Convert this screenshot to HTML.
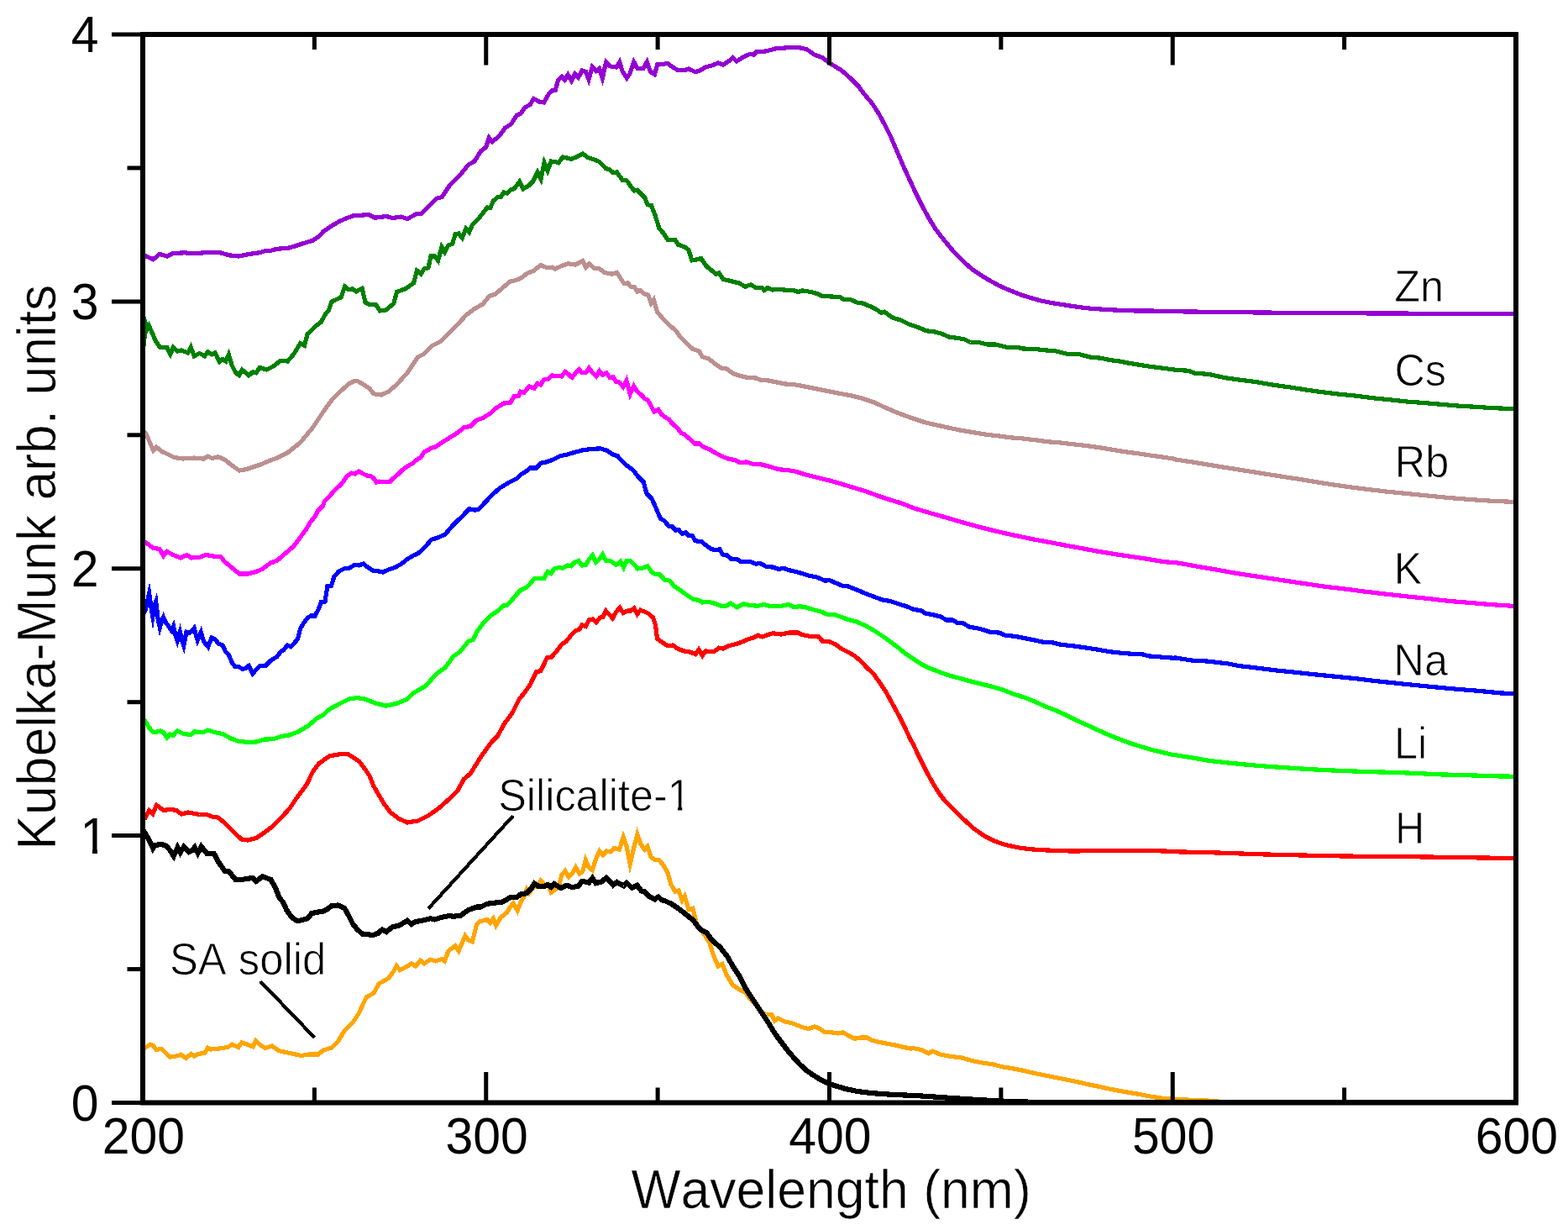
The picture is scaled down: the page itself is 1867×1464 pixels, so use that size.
<!DOCTYPE html>
<html lang="en">
<head>
<meta charset="utf-8">
<title>Kubelka-Munk spectra</title>
<style>
html,body{margin:0;padding:0;background:#fff;}
body{width:1867px;height:1464px;overflow:hidden;}
svg{display:block;}
text{font-family:"Liberation Sans", Arial, Helvetica, sans-serif;fill:#000;}
text{font-kerning:none;}
.lb{stroke:#fff;stroke-width:0.8px;}
.ti{stroke:#fff;stroke-width:0.6px;}
.tk{font-size:62px;}
.lb{font-size:54px;}
.ti{font-size:65.5px;}
.c{fill:none;stroke-linejoin:miter;stroke-miterlimit:10;stroke-linecap:butt;}
</style>
</head>
<body>
<svg width="1867" height="1464" viewBox="0 0 1867 1464">
<rect x="0" y="0" width="1867" height="1464" fill="#ffffff"/>
<defs><clipPath id="plot"><rect x="170.0" y="41.0" width="1635.0" height="1271.5"/></clipPath></defs>
<g clip-path="url(#plot)" shape-rendering="crispEdges">
<polyline class="c" stroke="#ffa500" stroke-width="5.2" points="170.5,1248.2 173.0,1247.0 178.8,1243.2 182.5,1244.5 186.2,1249.5 192.5,1248.2 197.5,1253.2 202.5,1258.2 212.5,1256.5 215.0,1255.2 221.2,1259.5 227.5,1254.5 231.2,1257.0 236.2,1254.5 243.8,1253.2 247.5,1247.0 251.2,1249.0 260.0,1248.2 267.5,1247.0 271.2,1246.5 276.2,1243.2 283.8,1246.5 288.0,1240.8 292.5,1242.5 301.2,1245.8 304.6,1238.7 310.0,1244.0 316.2,1247.5 323.8,1245.0 332.5,1250.8 340.0,1252.5 350.0,1254.5 358.8,1256.5 367.5,1255.0 378.8,1255.0 385.0,1250.0 395.0,1247.0 402.5,1239.5 410.0,1227.0 420.0,1217.0 427.5,1205.8 432.5,1194.5 436.2,1187.0 445.0,1182.0 451.2,1170.8 462.5,1164.5 468.8,1155.8 472.1,1149.6 476.2,1154.5 482.5,1151.5 490.0,1147.0 495.0,1150.0 500.5,1143.2 505.0,1147.0 512.5,1142.0 518.8,1144.0 526.2,1141.5 529.4,1144.0 533.8,1132.0 542.0,1125.8 546.1,1131.8 553.9,1113.8 557.5,1119.0 562.5,1120.8 567.5,1100.8 571.2,1097.0 580.0,1094.5 583.8,1098.2 587.3,1093.3 590.6,1101.4 596.2,1092.0 603.8,1085.8 607.5,1079.5 611.2,1075.1 616.1,1083.7 620.0,1073.8 623.8,1067.5 627.2,1058.7 630.0,1063.0 635.0,1056.2 640.0,1055.0 643.8,1048.0 648.8,1053.8 652.5,1052.5 656.3,1062.3 661.2,1058.8 665.0,1056.2 668.8,1041.2 673.0,1036.7 677.0,1043.7 681.2,1040.0 685.5,1032.4 690.0,1040.0 693.8,1037.5 697.3,1023.8 701.2,1032.5 705.3,1035.7 709.5,1022.5 713.9,1012.8 718.0,1017.5 722.5,1013.0 727.0,1013.8 731.2,1009.5 737.5,1011.2 742.1,996.2 746.2,1007.5 750.2,1028.4 754.5,1010.0 758.9,993.0 763.0,1005.0 767.5,1011.2 771.0,1007.4 775.0,1020.0 780.0,1023.8 785.0,1023.8 790.0,1030.0 795.0,1038.8 798.8,1052.5 803.8,1061.2 808.0,1060.0 812.2,1071.7 815.2,1066.8 820.0,1082.5 825.0,1081.2 828.8,1097.5 832.5,1105.0 838.8,1112.5 845.0,1122.5 848.8,1135.0 855.0,1150.0 860.0,1147.5 865.0,1160.0 872.5,1172.5 880.0,1177.5 887.5,1181.2 892.5,1188.8 900.0,1196.2 907.5,1205.0 912.5,1207.5 918.8,1207.5 922.5,1214.9 926.2,1212.0 935.0,1216.2 942.5,1217.5 950.0,1220.5 956.2,1223.0 962.5,1224.5 970.0,1222.0 975.0,1223.8 981.2,1228.0 990.0,1228.8 997.5,1230.0 1003.8,1228.8 1010.0,1232.5 1017.5,1236.2 1025.0,1235.0 1032.5,1235.0 1037.5,1238.0 1045.0,1240.0 1055.0,1242.0 1065.0,1243.8 1075.0,1246.2 1085.0,1248.2 1087.0,1247.5 1097.0,1249.5 1105.8,1253.8 1110.8,1251.2 1119.5,1255.0 1132.0,1257.5 1144.5,1258.8 1157.0,1262.5 1169.5,1265.0 1182.0,1266.8 1194.5,1270.0 1207.0,1272.0 1219.5,1274.5 1232.0,1277.5 1244.5,1280.0 1257.0,1282.5 1269.5,1285.0 1282.0,1287.5 1294.5,1290.5 1307.0,1293.0 1319.5,1295.8 1332.0,1298.2 1344.5,1300.5 1357.0,1302.5 1369.5,1305.0 1382.0,1307.0 1394.5,1308.0 1412.0,1309.0 1437.0,1310.0 1462.0,1312.0"/>
<polyline class="c" stroke="#000000" stroke-width="6.2" points="170.5,988.2 173.0,992.0 177.5,999.5 182.2,1009.8 185.0,1005.8 192.5,1005.0 197.5,1006.5 202.5,1012.0 206.8,1018.9 211.4,1008.8 214.6,1014.8 218.9,1008.0 225.0,1014.0 228.8,1012.0 231.8,1008.5 235.5,1015.5 239.7,1007.5 246.2,1015.8 255.0,1016.5 260.0,1025.8 267.5,1036.5 272.5,1037.0 280.0,1046.5 287.5,1047.0 295.0,1045.8 301.2,1045.0 305.0,1048.9 312.5,1043.2 322.5,1047.0 327.5,1055.8 332.5,1068.2 337.5,1074.5 341.2,1083.2 347.5,1092.0 353.8,1096.2 360.0,1095.0 366.2,1093.2 371.2,1087.0 377.5,1085.8 385.0,1084.5 390.0,1082.0 395.0,1078.2 402.5,1077.5 410.0,1080.8 415.0,1089.5 420.0,1099.5 425.0,1105.8 431.2,1111.5 437.5,1112.0 443.8,1113.2 450.0,1110.8 455.0,1106.5 460.0,1109.0 467.5,1103.2 473.8,1102.0 478.8,1099.5 485.0,1095.8 490.0,1100.0 495.0,1097.0 502.5,1095.8 512.5,1093.2 517.5,1094.5 525.0,1092.0 535.0,1090.0 540.0,1090.8 548.8,1089.5 557.5,1083.2 567.5,1079.5 572.5,1079.5 580.0,1075.8 590.0,1074.5 597.5,1074.0 607.5,1068.2 615.0,1068.2 620.0,1064.5 627.5,1063.0 632.5,1057.5 636.3,1051.7 641.2,1055.0 647.5,1055.0 652.5,1053.0 656.2,1056.0 660.0,1052.0 667.5,1057.0 675.0,1053.8 681.2,1056.2 688.8,1054.5 693.0,1048.8 701.2,1050.5 705.5,1045.1 709.5,1051.2 716.2,1049.5 722.0,1044.8 730.0,1053.5 734.5,1050.0 742.5,1054.5 746.2,1050.8 752.5,1057.0 758.7,1053.8 763.8,1060.5 767.5,1061.2 773.8,1067.5 779.5,1070.5 783.8,1067.5 788.0,1071.2 792.5,1072.5 800.0,1076.2 807.5,1081.2 815.0,1087.0 825.0,1095.0 833.8,1106.2 841.2,1110.0 847.5,1118.8 857.5,1127.5 866.2,1138.8 872.5,1150.0 880.0,1161.2 886.2,1173.8 892.5,1183.8 900.0,1195.0 907.5,1206.2 915.0,1217.5 922.5,1230.0 930.0,1240.0 937.5,1250.0 945.0,1258.8 952.5,1267.0 960.0,1273.8 967.5,1279.2 975.0,1283.8 985.0,1288.8 995.0,1292.5 1007.5,1296.2 1020.0,1298.8 1035.0,1300.8 1050.0,1302.0 1065.0,1303.0 1085.0,1303.8 1087.0,1303.8 1112.0,1305.5 1137.0,1307.2 1167.0,1309.2 1212.0,1311.5 1287.0,1312.2 1805.0,1312.5"/>
<polyline class="c" stroke="#ff0000" stroke-width="5.2" points="170.5,972.0 173.0,973.2 177.6,964.8 181.9,968.9 186.3,958.4 195.0,964.5 202.5,963.2 210.0,964.5 216.2,969.0 223.8,967.0 237.5,969.5 246.2,969.5 252.5,972.0 260.0,973.2 267.5,979.5 277.5,989.5 287.5,999.0 295.0,1000.0 305.0,997.5 315.0,990.8 325.0,983.2 335.0,973.2 345.0,962.0 352.5,950.8 360.0,940.8 365.0,934.0 372.5,918.5 380.0,908.5 392.5,899.8 407.5,897.2 415.0,898.0 427.5,906.0 435.0,916.0 440.0,923.5 445.0,935.8 450.0,944.5 457.5,957.0 465.0,967.0 475.0,974.5 485.0,979.0 497.5,977.0 510.0,970.8 522.5,962.0 535.0,950.8 545.0,940.8 552.5,927.2 560.0,921.0 572.5,901.0 585.0,883.5 592.5,876.0 600.0,862.2 610.0,848.5 618.8,831.0 620.0,830.0 625.0,823.8 631.2,815.0 638.8,799.5 643.8,798.8 651.2,783.0 656.2,782.5 662.5,775.5 668.8,767.0 673.8,763.8 680.0,756.2 685.0,750.8 689.5,749.5 693.0,743.8 697.5,745.5 701.2,738.0 706.2,737.0 710.0,740.5 714.5,735.0 718.0,734.5 721.4,727.1 725.0,731.2 729.5,735.9 733.8,728.0 738.0,723.3 742.0,729.5 747.5,727.0 751.2,727.0 755.0,723.9 758.8,731.1 762.5,726.2 767.5,728.0 772.5,730.5 777.5,735.0 780.5,743.8 782.5,760.0 787.5,763.8 795.0,768.8 801.2,768.0 807.5,772.5 815.0,775.0 822.5,776.2 828.0,778.8 832.0,773.2 836.3,780.4 840.0,775.0 850.0,775.5 856.2,771.2 861.2,772.0 867.5,768.8 880.0,765.5 890.0,761.2 897.5,758.8 902.5,756.2 907.5,758.0 912.5,756.2 920.0,753.8 930.0,755.0 940.0,753.0 950.0,753.0 955.0,755.5 965.0,757.5 975.0,758.0 980.0,763.8 987.5,763.8 995.0,767.0 1002.5,772.5 1010.0,776.2 1017.5,780.5 1025.0,787.0 1032.5,795.0 1040.0,802.0 1047.5,812.5 1055.0,823.8 1062.5,837.5 1070.0,851.2 1077.5,866.2 1085.0,882.0 1087.0,885.0 1094.5,901.2 1102.0,916.2 1109.5,930.0 1117.0,942.5 1124.5,952.5 1132.0,960.0 1144.5,972.5 1159.5,986.2 1172.0,995.0 1184.5,1001.2 1197.0,1005.5 1212.0,1008.8 1227.0,1010.8 1247.0,1012.0 1274.5,1013.0 1299.5,1012.8 1324.5,1012.5 1362.0,1012.5 1387.0,1013.0 1400.0,1013.8 1450.0,1015.0 1500.0,1016.8 1550.0,1018.0 1600.0,1019.0 1650.0,1019.5 1700.0,1020.0 1750.0,1020.8 1805.0,1021.5"/>
<polyline class="c" stroke="#00ff00" stroke-width="5.2" points="170.5,854.8 173.0,858.5 177.5,866.0 182.5,871.5 187.5,871.0 191.2,869.8 195.0,872.2 198.8,878.2 202.5,874.0 206.2,875.5 211.2,869.8 217.5,873.0 227.5,874.8 231.2,871.0 242.5,871.5 247.5,869.0 255.0,871.5 265.0,873.5 275.0,879.0 285.0,882.5 296.2,883.5 305.0,883.0 315.0,880.0 325.0,879.8 335.0,876.5 345.0,874.8 355.0,871.0 367.5,863.5 377.5,854.8 385.0,851.0 392.5,844.0 405.0,837.2 415.0,832.2 425.0,830.5 435.0,832.2 447.5,837.2 460.0,840.2 472.5,837.2 485.0,832.2 492.5,824.8 507.5,816.0 515.0,807.2 522.5,799.8 530.0,794.8 540.0,781.0 547.5,776.0 557.5,763.5 563.8,761.0 567.5,752.2 575.0,742.2 585.0,732.2 592.5,727.2 600.0,720.5 603.8,720.5 610.0,713.5 617.5,704.8 620.0,702.5 627.5,698.8 636.2,688.8 642.5,688.8 647.5,688.8 652.0,680.5 656.2,682.5 660.0,677.0 665.0,675.5 670.0,676.2 676.2,673.0 680.0,673.8 683.8,669.5 688.8,667.5 693.0,673.0 697.5,672.5 701.2,666.2 705.4,660.9 709.6,669.6 713.8,665.5 717.5,659.9 721.2,667.0 727.5,668.0 733.8,672.5 738.7,668.2 742.5,675.6 746.2,667.5 750.5,667.5 755.0,672.0 759.5,677.0 765.0,676.2 771.2,673.8 776.2,681.2 781.2,683.8 785.5,683.8 791.2,690.0 797.5,691.2 802.5,697.5 810.0,702.5 817.5,708.0 825.0,713.0 832.5,714.5 836.2,717.0 843.8,716.2 850.0,718.0 858.8,721.2 865.0,721.2 870.0,718.0 877.5,723.0 885.0,718.8 892.5,720.5 902.5,721.2 910.0,719.5 917.5,721.8 927.5,721.8 938.8,719.5 945.0,722.5 952.5,721.8 960.0,723.0 970.0,726.2 977.5,728.0 985.0,731.2 992.5,731.2 1000.0,733.8 1010.0,737.5 1020.0,740.0 1030.0,744.5 1040.0,750.0 1047.5,755.0 1055.0,760.0 1062.5,765.5 1070.0,771.2 1077.5,777.5 1085.0,782.5 1087.0,783.8 1097.0,790.5 1107.0,795.5 1117.0,799.2 1127.0,803.0 1137.0,805.8 1152.0,810.0 1167.0,813.8 1182.0,817.5 1194.5,821.2 1207.0,826.2 1219.5,830.0 1232.0,835.0 1244.5,840.8 1257.0,845.5 1269.5,851.2 1282.0,857.5 1294.5,863.0 1307.0,868.8 1319.5,874.5 1332.0,879.5 1344.5,884.2 1357.0,888.2 1369.5,892.0 1382.0,895.0 1394.5,898.0 1400.0,898.8 1420.0,902.0 1440.0,905.5 1462.5,908.0 1487.5,910.5 1512.5,912.5 1537.5,914.2 1562.5,915.8 1587.5,917.0 1612.5,918.0 1637.5,918.8 1662.5,919.5 1687.5,920.5 1712.5,921.8 1737.5,922.5 1762.5,923.2 1787.5,924.0 1805.0,924.2"/>
<polyline class="c" stroke="#0000ff" stroke-width="5.2" points="170.5,731.0 173.0,726.0 175.5,716.0 177.6,706.4 180.5,726.0 181.9,734.1 184.0,721.0 185.7,716.1 188.0,736.0 190.3,746.9 192.0,741.0 194.6,734.7 197.5,741.0 201.2,746.0 204.4,750.7 206.6,745.5 209.0,756.0 211.2,762.6 214.3,752.1 217.0,763.5 218.7,768.6 222.0,752.2 225.5,753.5 228.8,751.0 231.2,747.8 235.2,762.1 239.3,752.4 242.5,763.5 247.8,769.9 252.0,759.0 256.2,761.0 260.0,766.0 265.0,768.0 268.8,776.0 272.5,779.8 276.2,788.5 280.0,793.5 285.0,794.0 288.8,796.5 292.5,795.5 296.2,792.4 300.8,801.7 305.0,797.2 310.0,792.2 316.2,792.2 322.5,786.0 330.0,781.5 335.0,774.8 338.0,773.5 342.0,768.0 346.2,769.8 350.0,766.0 354.5,760.5 357.5,748.5 361.2,742.2 366.2,735.5 370.0,733.0 375.0,733.0 378.8,726.0 382.5,716.5 387.0,716.0 390.0,697.2 394.5,697.2 398.0,686.0 403.8,679.8 410.0,676.8 415.0,676.8 422.5,672.2 427.5,673.0 432.5,671.0 437.5,674.8 443.8,679.0 450.0,679.8 456.2,681.0 462.5,678.0 470.0,675.5 477.5,671.5 485.0,665.5 492.5,661.0 497.5,659.0 505.0,652.2 513.8,642.2 520.0,640.5 530.0,636.0 537.5,627.2 547.5,617.2 552.5,612.2 558.8,605.5 565.0,607.2 570.0,606.0 580.0,595.5 585.0,589.8 595.0,581.0 605.0,574.8 615.0,569.8 620.0,565.0 626.2,561.2 631.2,557.0 638.8,557.0 643.8,551.2 650.0,550.0 657.5,547.5 667.5,542.5 675.0,541.2 682.5,538.8 695.0,535.5 705.0,534.5 715.0,533.8 722.5,536.2 730.0,541.2 735.0,542.5 741.2,549.5 747.5,555.0 753.8,559.5 760.0,567.5 766.2,573.8 770.0,587.5 776.2,593.8 781.2,605.0 786.2,617.0 791.2,620.0 796.2,626.2 800.0,626.2 804.5,631.2 808.0,630.5 812.5,635.5 816.2,633.8 820.0,637.5 824.5,638.0 828.0,643.8 835.0,644.5 841.2,649.5 847.5,653.8 852.5,654.5 857.0,653.8 860.5,660.0 865.0,660.5 870.0,665.0 877.5,665.5 882.5,668.8 893.8,668.8 900.0,671.2 905.0,670.5 912.5,674.5 920.0,675.0 927.5,677.5 932.5,676.2 940.0,678.8 947.5,680.5 955.0,682.5 962.5,685.0 972.5,687.0 982.5,691.2 987.5,690.5 995.0,693.8 1002.5,697.0 1010.0,698.0 1020.0,702.0 1030.0,706.2 1040.0,710.0 1050.0,713.8 1060.0,715.5 1070.0,718.8 1080.0,722.0 1087.0,725.0 1097.0,727.0 1102.0,730.0 1112.0,732.0 1119.5,733.8 1127.0,738.0 1134.5,738.0 1139.5,741.2 1147.0,742.0 1154.5,746.2 1164.5,748.0 1172.0,750.0 1179.5,752.5 1189.5,753.0 1197.0,756.2 1209.5,757.5 1222.0,760.0 1234.5,762.5 1242.0,764.2 1252.0,764.5 1262.0,767.0 1277.0,768.8 1292.0,770.8 1307.0,773.2 1322.0,775.8 1337.0,777.5 1347.0,778.2 1359.5,778.5 1367.0,780.8 1382.0,782.0 1397.0,783.2 1400.0,783.0 1420.0,786.2 1437.5,787.0 1462.5,790.0 1475.0,792.5 1500.0,795.5 1520.0,798.0 1540.0,800.0 1562.5,802.5 1587.5,805.0 1612.5,807.5 1637.5,810.5 1662.5,813.2 1687.5,815.8 1712.5,818.2 1737.5,820.5 1762.5,822.5 1787.5,825.0 1805.0,825.5"/>
<polyline class="c" stroke="#ff00ff" stroke-width="5.2" points="170.0,643.5 173.0,645.5 182.5,652.2 190.0,653.5 194.6,661.6 198.8,656.5 206.2,660.5 215.0,664.0 222.5,660.5 227.5,664.0 237.5,663.5 245.0,660.5 255.0,662.2 262.5,662.2 267.5,668.5 275.0,674.8 285.0,683.0 295.0,683.0 305.0,680.5 312.5,677.2 322.5,669.8 330.0,667.2 340.0,658.5 350.0,649.8 365.1,629.2 368.9,622.5 375.7,613.8 378.6,608.0 384.4,602.2 386.3,596.4 394.0,588.7 399.8,582.0 405.6,577.1 409.4,572.3 413.3,566.5 418.6,563.1 422.9,564.1 427.2,560.9 432.6,564.1 436.4,566.0 441.2,566.5 445.1,569.4 448.0,574.2 451.8,573.1 458.6,573.8 464.4,573.1 469.2,568.5 475.0,563.6 480.8,557.9 486.6,554.0 491.4,551.6 496.2,547.2 501.0,544.5 504.9,538.1 509.7,535.7 513.5,533.3 518.4,532.0 525.0,527.5 535.0,521.2 545.0,515.0 552.5,508.8 560.0,507.5 567.5,500.0 575.0,497.5 585.0,491.2 590.0,486.2 600.0,480.0 607.5,479.5 612.5,471.2 617.5,471.2 620.0,466.2 623.8,467.5 630.0,460.0 636.2,462.0 640.0,456.2 643.8,458.0 647.5,452.0 652.5,451.2 657.5,447.0 663.8,447.5 668.8,448.0 673.0,442.5 677.0,445.5 681.2,449.5 685.5,443.8 689.5,440.0 693.0,443.8 697.5,443.8 701.3,438.0 705.5,443.8 710.0,447.9 713.8,441.7 717.5,446.2 722.0,443.8 726.2,449.5 730.0,448.8 733.8,454.5 737.5,455.0 741.9,460.5 745.9,453.0 750.3,468.9 754.6,459.5 758.8,466.2 763.8,470.0 767.5,474.5 771.2,476.2 775.0,482.5 778.8,490.0 783.8,487.5 787.5,493.0 792.5,497.0 796.2,498.8 801.2,505.0 806.2,508.8 811.2,515.5 815.0,517.0 821.2,522.5 827.5,528.0 832.5,528.0 837.5,532.0 845.0,535.0 852.5,539.5 861.2,543.8 867.5,546.2 875.0,547.5 881.2,550.5 888.8,550.0 897.5,552.5 905.0,552.5 915.0,555.0 927.5,558.8 937.5,559.5 947.5,561.2 957.5,564.5 967.5,567.0 977.5,569.5 990.0,572.5 1002.5,576.2 1015.0,580.0 1030.0,584.5 1045.0,590.0 1060.0,595.0 1075.0,599.5 1087.0,604.5 1107.0,610.5 1127.0,616.2 1147.0,622.0 1167.0,627.5 1187.0,632.5 1207.0,637.0 1227.0,641.2 1247.0,645.0 1267.0,648.8 1287.0,652.5 1307.0,656.2 1327.0,659.5 1347.0,662.5 1367.0,665.5 1387.0,668.8 1400.0,669.6 1425.0,674.1 1450.0,678.4 1475.0,682.9 1500.0,686.6 1525.0,690.4 1550.0,694.1 1575.0,697.9 1600.0,700.9 1625.0,704.1 1650.0,707.1 1675.0,709.9 1700.0,712.4 1725.0,715.4 1750.0,717.4 1775.0,719.6 1805.0,721.6"/>
<polyline class="c" stroke="#bc8f8f" stroke-width="5.2" points="170.5,512.5 173.8,516.2 178.8,527.5 182.6,536.2 186.2,532.0 192.5,537.5 197.5,539.5 207.5,544.5 217.5,546.0 231.2,545.0 242.5,546.2 247.5,543.0 252.5,545.5 260.0,543.8 267.5,547.0 277.5,555.0 285.0,560.0 292.5,558.8 310.0,553.0 320.0,548.8 330.0,545.0 342.5,538.8 355.0,528.8 360.0,523.8 372.5,508.8 385.0,490.0 395.0,476.2 405.0,466.2 415.0,457.0 421.2,453.8 426.2,453.8 432.5,457.5 440.0,462.5 445.0,468.8 453.8,470.0 462.5,466.2 472.5,457.5 485.0,443.8 497.5,425.0 505.0,421.2 515.0,411.2 525.0,406.2 535.0,396.2 545.0,386.2 555.0,375.0 565.0,367.5 575.0,362.0 582.5,352.5 590.0,350.0 600.0,341.2 607.5,335.0 613.8,333.8 620.0,331.2 627.5,325.5 635.0,322.5 643.8,315.5 651.2,318.8 657.5,318.0 661.2,320.0 667.5,317.0 676.2,313.8 685.0,315.0 693.8,310.5 697.6,318.1 701.2,313.8 707.5,319.5 713.8,320.0 720.0,324.5 728.8,326.2 734.5,324.5 738.8,331.2 743.0,337.5 747.5,337.0 751.2,341.2 755.0,341.2 758.8,347.0 762.5,345.5 767.5,350.0 772.0,351.2 775.2,361.0 778.4,356.8 782.5,371.2 790.0,380.0 797.5,387.5 805.0,393.8 810.0,401.2 817.5,408.8 825.0,415.5 832.5,418.0 836.2,424.5 843.8,427.0 852.5,433.8 858.8,438.0 865.0,438.8 872.5,444.5 880.0,447.0 890.0,449.5 900.0,450.0 905.0,452.0 915.0,453.0 922.5,454.5 935.0,457.0 945.0,457.5 958.0,460.0 970.5,462.5 983.0,465.0 998.0,468.0 1013.0,470.8 1025.5,473.8 1040.5,478.8 1055.5,485.8 1070.5,492.0 1085.5,497.5 1100.5,502.5 1113.0,505.5 1128.0,508.8 1143.0,512.0 1158.0,514.5 1173.0,517.0 1188.0,518.8 1203.0,520.8 1218.0,522.0 1233.0,523.8 1248.0,525.8 1263.0,527.0 1278.0,528.8 1293.0,530.5 1308.0,532.5 1323.0,535.0 1338.0,537.5 1353.0,539.5 1368.0,541.8 1383.0,543.8 1398.0,546.2 1400.0,547.0 1425.0,550.8 1450.0,555.0 1475.0,559.0 1500.0,563.0 1525.0,567.0 1550.0,570.8 1575.0,575.0 1600.0,578.8 1625.0,582.0 1650.0,585.0 1675.0,587.5 1700.0,590.0 1725.0,592.5 1750.0,594.5 1775.0,596.2 1805.0,597.5"/>
<polyline class="c" stroke="#008000" stroke-width="5.2" points="170.5,415.0 173.9,386.0 175.7,390.9 177.4,387.8 185.0,405.0 190.0,413.0 198.8,413.8 202.9,421.6 206.4,413.2 211.2,418.0 216.2,417.0 223.8,420.0 227.3,413.4 231.2,423.8 237.5,420.5 243.8,423.8 247.5,418.8 252.5,422.0 256.2,420.0 261.3,430.4 265.0,427.5 268.8,430.0 272.3,422.1 276.2,435.0 280.0,442.5 284.5,446.8 288.3,440.1 296.2,447.0 301.2,442.5 305.0,443.8 309.2,437.5 317.5,440.0 325.0,436.2 333.8,429.5 342.5,430.0 350.0,421.2 357.5,408.8 362.5,411.2 366.2,397.5 375.0,388.8 382.5,383.0 387.5,373.8 391.2,370.0 395.0,358.8 401.2,356.2 406.2,353.8 410.6,341.0 415.0,344.5 420.0,343.8 423.8,347.0 431.1,343.2 435.0,360.0 440.0,362.5 447.5,362.5 452.5,370.0 460.0,368.8 468.8,361.2 472.5,347.5 482.5,343.8 492.5,337.0 496.5,322.1 501.2,326.2 505.0,320.0 510.0,318.8 513.0,305.0 517.5,305.0 521.6,310.2 525.9,293.9 529.5,300.0 533.8,292.0 538.8,290.0 542.0,278.8 546.2,278.0 550.3,283.2 554.7,272.2 558.6,276.6 562.5,267.5 570.0,260.0 576.2,252.0 580.0,247.0 583.8,247.5 587.5,238.8 592.5,235.0 596.2,234.5 600.0,228.8 603.8,230.0 607.5,226.2 612.5,224.5 618.7,216.1 623.0,225.0 630.0,220.5 635.0,215.5 640.0,204.7 644.0,213.2 648.0,193.6 652.0,203.2 656.2,192.0 661.2,192.5 665.0,193.8 670.0,187.0 675.0,188.0 680.0,189.5 686.2,187.0 693.8,183.0 700.0,187.5 707.5,190.0 713.8,192.5 721.2,200.5 726.2,202.0 730.0,205.5 734.5,205.0 741.2,214.5 746.2,215.0 755.0,227.0 758.8,226.2 767.5,235.0 771.2,243.8 775.5,244.5 780.0,256.2 785.0,272.0 790.0,277.5 795.0,285.5 803.8,285.5 807.5,291.2 815.0,293.8 820.0,297.5 823.8,310.0 830.0,308.8 835.0,307.5 841.2,317.0 847.5,322.0 852.5,326.2 856.2,325.0 861.2,332.5 870.0,334.5 880.0,337.0 887.5,341.2 893.8,338.8 900.0,342.5 907.5,342.5 910.0,345.5 913.8,342.5 920.0,345.0 926.8,344.5 933.0,345.0 945.5,345.8 950.5,347.5 955.5,345.8 965.5,347.5 973.0,349.5 979.2,352.5 990.5,353.0 1000.5,353.8 1004.2,356.2 1013.0,356.8 1020.5,360.0 1028.0,361.2 1038.0,365.5 1045.5,369.5 1049.2,372.5 1053.0,371.2 1063.0,378.2 1073.0,381.2 1083.0,386.2 1093.0,389.5 1103.0,393.8 1113.0,395.0 1120.5,397.0 1130.5,401.2 1140.5,402.5 1148.0,403.8 1155.5,407.5 1165.5,407.5 1175.5,410.0 1185.5,410.0 1198.0,413.2 1210.5,413.2 1218.0,415.0 1233.0,415.5 1245.5,417.0 1255.5,417.5 1270.5,421.2 1285.5,421.8 1298.0,425.0 1310.5,426.2 1323.0,428.8 1333.0,430.0 1345.5,432.5 1358.0,434.5 1370.5,436.5 1383.0,438.0 1398.0,440.0 1400.0,440.5 1415.0,441.2 1422.5,444.2 1440.0,445.5 1457.5,449.5 1475.0,452.0 1495.0,454.5 1515.0,458.0 1535.0,460.8 1555.0,464.0 1575.0,466.8 1595.0,469.2 1615.0,471.2 1635.0,473.8 1655.0,475.8 1675.0,478.0 1695.0,479.5 1715.0,481.2 1735.0,483.0 1755.0,484.2 1775.0,485.5 1805.0,486.8"/>
<polyline class="c" stroke="#9400d3" stroke-width="5.2" points="170.0,303.8 173.0,304.5 182.5,308.8 190.0,302.5 198.8,305.0 206.2,301.5 220.0,300.8 230.0,301.8 247.5,300.5 262.5,300.8 272.5,303.8 283.8,305.0 295.0,302.8 310.0,300.5 315.0,298.8 322.5,298.2 330.0,296.2 342.5,295.5 352.5,292.5 360.0,290.0 372.5,286.2 380.0,281.2 385.0,275.5 395.0,268.8 405.0,263.0 415.0,258.8 422.5,256.2 430.0,256.2 438.8,255.5 446.2,259.2 460.0,257.5 467.5,259.5 477.5,258.0 485.0,260.5 495.0,255.0 501.2,254.5 510.0,246.2 520.0,236.2 526.2,234.5 535.0,221.2 547.5,208.8 557.5,196.2 565.0,192.0 572.5,180.0 578.8,175.0 582.3,163.9 586.2,168.8 595.0,161.2 601.2,152.5 608.8,147.5 615.0,137.5 620.0,135.0 625.0,128.0 631.2,124.5 635.5,117.5 642.5,121.2 647.5,122.0 653.8,111.2 657.5,108.0 661.2,107.5 664.5,95.5 668.8,91.2 672.5,94.9 676.2,89.0 680.4,96.0 684.6,87.7 688.7,92.3 693.0,83.8 697.5,85.5 701.0,94.6 705.3,79.3 710.0,84.5 713.6,81.7 717.3,93.0 721.6,74.2 726.2,78.8 733.8,80.0 737.7,74.0 741.2,85.0 746.3,93.0 750.0,87.5 754.7,73.7 758.8,81.2 766.2,81.2 770.3,73.7 774.5,85.5 779.4,88.5 783.0,76.2 790.0,76.2 795.0,75.5 801.2,80.0 807.5,83.8 815.0,83.8 820.0,82.0 827.5,85.5 832.5,84.5 840.0,80.0 847.5,78.0 855.0,75.0 861.2,77.0 867.5,73.0 872.5,68.8 877.0,73.0 885.0,68.0 892.5,64.5 897.5,65.0 901.2,61.2 910.0,61.2 917.5,59.5 925.0,57.5 927.0,57.5 937.0,56.8 952.0,56.8 960.8,58.8 969.5,65.0 979.5,68.8 989.5,76.2 1002.0,83.8 1012.0,92.5 1022.0,102.5 1029.5,112.5 1038.0,122.5 1045.5,133.8 1053.0,147.5 1060.5,162.5 1068.0,180.0 1075.5,197.5 1083.0,213.8 1090.5,230.0 1098.0,245.0 1105.5,258.8 1113.0,271.2 1120.5,281.2 1128.0,290.5 1137.0,301.2 1147.0,311.2 1157.0,320.0 1167.0,327.0 1177.0,333.0 1189.5,340.0 1202.0,345.5 1214.5,350.5 1227.0,354.5 1239.5,358.0 1252.0,360.5 1264.5,362.5 1277.0,364.5 1289.5,366.2 1302.0,367.5 1327.0,369.0 1352.0,370.0 1392.0,370.2 1400.0,370.8 1500.0,372.0 1600.0,372.8 1700.0,373.2 1805.0,373.5"/>
</g>
<g stroke="#000" stroke-width="4.2" fill="none" shape-rendering="crispEdges">
<line x1="310" y1="1168" x2="374.5" y2="1235"/>
<line x1="611" y1="971" x2="510" y2="1081.5"/>
</g>
<g stroke="#000" stroke-width="5" fill="none">
<line x1="374.38" y1="1312.5" x2="374.38" y2="1294.5"/>
<line x1="374.38" y1="41.0" x2="374.38" y2="59.0"/>
<line x1="578.75" y1="1312.5" x2="578.75" y2="1276.0"/>
<line x1="578.75" y1="41.0" x2="578.75" y2="77.5"/>
<line x1="783.12" y1="1312.5" x2="783.12" y2="1294.5"/>
<line x1="783.12" y1="41.0" x2="783.12" y2="59.0"/>
<line x1="987.50" y1="1312.5" x2="987.50" y2="1276.0"/>
<line x1="987.50" y1="41.0" x2="987.50" y2="77.5"/>
<line x1="1191.88" y1="1312.5" x2="1191.88" y2="1294.5"/>
<line x1="1191.88" y1="41.0" x2="1191.88" y2="59.0"/>
<line x1="1396.25" y1="1312.5" x2="1396.25" y2="1276.0"/>
<line x1="1396.25" y1="41.0" x2="1396.25" y2="77.5"/>
<line x1="1600.62" y1="1312.5" x2="1600.62" y2="1294.5"/>
<line x1="1600.62" y1="41.0" x2="1600.62" y2="59.0"/>
<line x1="170.0" y1="1312.50" x2="133.0" y2="1312.50"/>
<line x1="170.0" y1="1153.56" x2="151.5" y2="1153.56"/>
<line x1="170.0" y1="994.62" x2="133.0" y2="994.62"/>
<line x1="170.0" y1="835.69" x2="151.5" y2="835.69"/>
<line x1="170.0" y1="676.75" x2="133.0" y2="676.75"/>
<line x1="170.0" y1="517.81" x2="151.5" y2="517.81"/>
<line x1="170.0" y1="358.88" x2="133.0" y2="358.88"/>
<line x1="170.0" y1="199.94" x2="151.5" y2="199.94"/>
<line x1="170.0" y1="41.00" x2="133.0" y2="41.00"/>
</g>
<rect x="170.0" y="41.0" width="1635.0" height="1271.5" fill="none" stroke="#000" stroke-width="6"/>
<text class="tk" transform="translate(171.00,1373.00) scale(0.9500,1.0000)" text-anchor="middle">200</text>
<text class="tk" transform="translate(579.75,1373.00) scale(0.9500,1.0000)" text-anchor="middle">300</text>
<text class="tk" transform="translate(988.50,1373.00) scale(0.9500,1.0000)" text-anchor="middle">400</text>
<text class="tk" transform="translate(1397.25,1373.00) scale(0.9500,1.0000)" text-anchor="middle">500</text>
<text class="tk" transform="translate(1806.00,1373.00) scale(0.9500,1.0000)" text-anchor="middle">600</text>
<text class="tk" transform="translate(117.50,1333.70) scale(0.9500,1.0000)" text-anchor="end">0</text>
<clipPath id="one-a"><rect x="60" y="955.83" width="80" height="55.24"/><rect x="109.95" y="1009.83" width="6.01" height="8"/></clipPath>
<g clip-path="url(#one-a)">
<text class="tk" transform="translate(128.30,1015.83) scale(0.9500,1.0000)" text-anchor="end">1</text>
</g>
<text class="tk" transform="translate(117.50,697.95) scale(0.9500,1.0000)" text-anchor="end">2</text>
<text class="tk" transform="translate(117.50,380.07) scale(0.9500,1.0000)" text-anchor="end">3</text>
<text class="tk" transform="translate(117.50,62.20) scale(0.9500,1.0000)" text-anchor="end">4</text>
<text class="ti" transform="translate(989.60,1438.20) scale(0.9552,1.0000)" text-anchor="middle">Wavelength (nm)</text>
<text class="ti" transform="translate(65.80,675.20) rotate(-90) scale(0.9528,1.0000)" text-anchor="middle">Kubelka-Munk arb. units</text>
<text class="lb" transform="translate(1660.30,359.00) scale(0.9324,1.0000)" text-anchor="start">Zn</text>
<text class="lb" transform="translate(1660.50,459.00) scale(0.9324,1.0000)" text-anchor="start">Cs</text>
<text class="lb" transform="translate(1660.80,568.00) scale(0.9324,1.0000)" text-anchor="start">Rb</text>
<text class="lb" transform="translate(1659.80,694.70) scale(0.9324,1.0000)" text-anchor="start">K</text>
<text class="lb" transform="translate(1659.60,804.00) scale(0.9324,1.0000)" text-anchor="start">Na</text>
<text class="lb" transform="translate(1659.90,903.30) scale(0.9324,1.0000)" text-anchor="start">Li</text>
<text class="lb" transform="translate(1661.30,1004.20) scale(0.8930,1.0000)" text-anchor="start">H</text>
<text class="lb" transform="translate(202.00,1159.60) scale(0.9400,1.0000)" text-anchor="start">SA solid</text>
<clipPath id="one-b"><rect x="583.3" y="904.7" width="260" height="55.84"/><rect x="583.3" y="958.7" width="212.40" height="20"/><rect x="806.96" y="958.7" width="5.25" height="8"/></clipPath>
<g clip-path="url(#one-b)">
<text class="lb" transform="translate(593.30,964.70) scale(0.9324,1.0000)" text-anchor="start">Silicalite-1</text>
</g>
</svg>
</body>
</html>
